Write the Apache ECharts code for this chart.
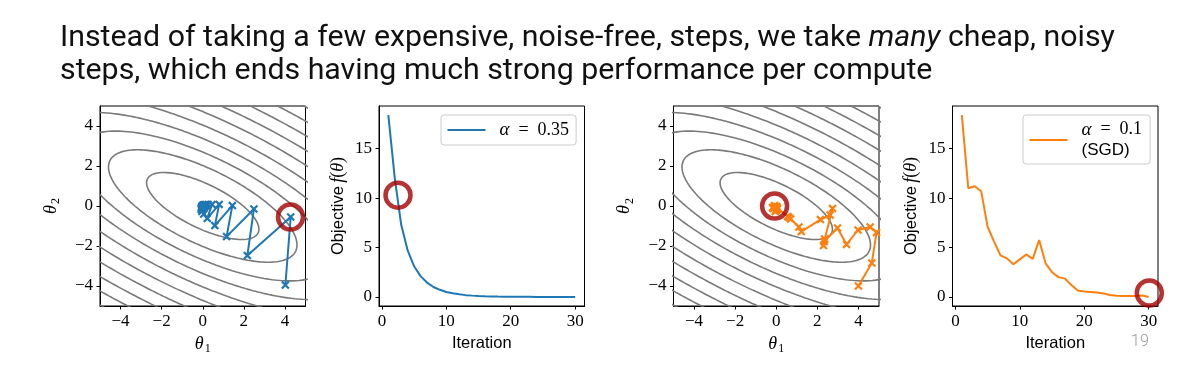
<!DOCTYPE html>
<html><head><meta charset="utf-8">
<script src="https://cdn.jsdelivr.net/npm/echarts@6/dist/echarts.min.js"></script>
<style>html,body{margin:0;padding:0;background:#fff}#c{width:1185px;height:369px}</style>
</head><body><div id="c"></div>
<script>
// ---------- data ----------
const titleLine1a = 'Instead of taking a few expensive, noise-free, steps, we take ';
const titleLine1b = 'many';
const titleLine1c = ' cheap, noisy';
const titleLine2 = 'steps, which ends having much strong performance per compute';
const pageNumber = '19';

const thetaTicks = [-4, -2, 0, 2, 4];
const iterTicks = [0, 10, 20, 30];
const objTicks = [0, 5, 10, 15];

const iterations = [1,2,3,4,5,6,7,8,9,10,11,12,13,14,15,16,17,18,19,20,21,22,23,24,25,26,27,28,29,30];

// full-batch gradient descent (alpha = 0.35)
const gdTheta1 = [4.02,4.28,2.17,2.49,1.16,1.44,0.59,0.80,0.22,0.45,0.05,0.26,-0.04,0.15,-0.07,0.09,-0.07,0.05,-0.06,0.03,-0.05,0.02,-0.04,0.01,-0.03,0.01,-0.02,0.00,-0.02,0.00];
const gdTheta2 = [-3.95,-0.55,-2.48,-0.15,-1.53,0.02,-0.98,0.08,-0.62,0.08,-0.40,0.08,-0.27,0.07,-0.18,0.06,-0.12,0.05,-0.08,0.04,-0.05,0.03,-0.04,0.02,-0.02,0.02,-0.02,0.01,-0.01,0.01];
const gdObjective = [18.4,12.0,7.3,4.7,3.1,2.1,1.45,1.0,0.72,0.5,0.36,0.26,0.18,0.13,0.09,0.065,0.045,0.03,0.02,0.015,0.01,0.007,0.005,0.003,0.002,0.002,0.001,0.001,0.0,0.0];

// stochastic gradient descent (alpha = 0.1)
const sgdTheta1 = [4.00,4.65,4.88,4.57,3.98,3.42,2.98,2.33,2.30,2.36,2.74,2.62,2.15,1.22,1.10,0.70,0.62,0.55,0.05,-0.10,0.00,-0.15,0.02,-0.05,-0.18,0.05,-0.08,-0.02,-0.12,-0.05];
const sgdTheta2 = [-4.00,-2.85,-1.32,-1.05,-1.20,-1.92,-1.10,-1.78,-1.98,-1.65,-0.12,-0.45,-0.68,-1.28,-1.05,-0.65,-0.58,-0.52,-0.10,-0.05,-0.22,-0.12,-0.02,-0.28,-0.08,-0.15,0.02,-0.20,-0.10,-0.05];
const sgdObjective = [18.4,11.0,11.2,10.7,7.1,5.6,4.2,3.9,3.3,3.8,4.3,3.85,5.75,3.4,2.5,2.0,1.85,1.2,0.65,0.55,0.5,0.44,0.35,0.2,0.12,0.1,0.08,0.08,0.14,0.0];

// quadratic objective f = 1/2 theta^T A theta and the contour levels drawn
const quadA = [[1.65, 1.87], [1.87, 4.4]];
const contourLevels = [3.2, 9, 16, 25, 36, 49, 64, 81, 100, 121];

// red highlight circles
const circleGD = [4.27, -0.55];
const circleGDObj = [2.5, 10.3];
const circleSGD = [-0.08, 0.0];
const circleSGDObj = [30.1, 0.4];

const legendGD = 'α = 0.35';
const legendSGD = 'α = 0.1 (SGD)';

// ---------- chart ----------
const BLUE = '#1f77b4', ORANGE = '#ff7f0e', RED = '#a50000';
const serif = 'Liberation Serif';
const sans = 'Liberation Sans';
const xMark = 'path://M0,1.8L1.8,0L5,3.2L8.2,0L10,1.8L6.8,5L10,8.2L8.2,10L5,6.8L1.8,10L0,8.2L3.2,5Z';

function zip(a, b) { return a.map((v, i) => [v, b[i]]); }
function ellipse(level) {
  const pts = [];
  const n = 720;
  for (let k = 0; k <= n; k++) {
    const phi = 2 * Math.PI * k / n;
    const u = Math.cos(phi), v = Math.sin(phi);
    const q = quadA[0][0]*u*u + 2*quadA[0][1]*u*v + quadA[1][1]*v*v;
    const r = Math.sqrt(2 * level / q);
    pts.push([r*u, r*v]);
  }
  return pts;
}
const minusFmt = v => (v < 0 ? '\u2212' + Math.abs(v) : String(v));

const mathRich = {
  t: {fontFamily: serif, fontStyle: 'italic', fontSize: 18, color: '#000', lineHeight: 22},
  s: {fontFamily: serif, fontSize: 12, color: '#000', lineHeight: 22, verticalAlign: 'bottom', padding: [0,0,0,1]},
  w: {fontFamily: sans, fontSize: 16.5, color: '#000', lineHeight: 22},
  f: {fontFamily: serif, fontStyle: 'italic', fontSize: 18, color: '#000', lineHeight: 22},
  p: {fontFamily: serif, fontSize: 18, color: '#000', lineHeight: 22}
};

function axis(kind, gridIndex, min, max, ticks, name, gap) {
  return {
    type: 'value', gridIndex, min, max,
    name, nameLocation: 'middle', nameGap: gap,
    nameTextStyle: {rich: mathRich},
    axisLine: {show: true, onZero: false, lineStyle: {color: '#000', width: 1}},
    axisTick: {show: true, inside: false, length: 3.5, lineStyle: {color: '#000', width: 1}, customValues: ticks},
    axisLabel: {show: true, customValues: ticks, formatter: minusFmt, color: '#000', fontFamily: serif, fontSize: 17, margin: 7},
    splitLine: {show: false}
  };
}

const grids = [
  {left: 100, top: 106, width: 205.5, height: 200},
  {left: 379, top: 106, width: 205.5, height: 200},
  {left: 673.5, top: 106, width: 205.5, height: 200},
  {left: 952.5, top: 106, width: 205.5, height: 200}
].map(g => Object.assign(g, {show: true, borderColor: '#000', borderWidth: 1, backgroundColor: '#fff', outerBoundsMode: 'none', containLabel: false}));

const xAxes = [
  axis('x', 0, -5, 5, thetaTicks, '{t|θ}{s|1}', 13),
  axis('x', 1, -0.45, 31.45, iterTicks, '{w|Iteration}', 24),
  axis('x', 2, -5, 5, thetaTicks, '{t|θ}{s|1}', 13),
  axis('x', 3, -0.45, 31.45, iterTicks, '{w|Iteration}', 24)
];
const yAxes = [
  axis('y', 0, -5, 5, thetaTicks, '{t|θ}{s|2}', 38),
  axis('y', 1, -0.92, 19.32, objTicks, '{w|Objective} {f|f}{p|(}{f|θ}{p|)}', 30),
  axis('y', 2, -5, 5, thetaTicks, '{t|θ}{s|2}', 38),
  axis('y', 3, -0.92, 19.32, objTicks, '{w|Objective} {f|f}{p|(}{f|θ}{p|)}', 30)
];

const series = [];
[0, 2].forEach(gi => {
  contourLevels.forEach(L => {
    series.push({
      type: 'line', name: 'contour', xAxisIndex: gi, yAxisIndex: gi,
      data: ellipse(L), showSymbol: false, symbol: 'none', clip: true, silent: true, z: 1,
      lineStyle: {color: '#7a7a7a', width: 1.6}
    });
  });
});
function path(gi, t1, t2, color, name) {
  return {
    type: 'line', name, xAxisIndex: gi, yAxisIndex: gi, data: zip(t1, t2),
    symbol: xMark, symbolSize: 8.5, showSymbol: true, showAllSymbol: true, clip: true, z: 3,
    itemStyle: {color, borderWidth: 0}, lineStyle: {color, width: 2}
  };
}
series.push(path(0, gdTheta1, gdTheta2, BLUE, 'gdpath'));
series.push(path(2, sgdTheta1, sgdTheta2, ORANGE, 'sgdpath'));
series.push({
  type: 'line', name: legendGD, xAxisIndex: 1, yAxisIndex: 1, data: zip(iterations, gdObjective),
  showSymbol: false, symbol: 'none', z: 3, itemStyle: {color: BLUE}, lineStyle: {color: BLUE, width: 2}
});
series.push({
  type: 'line', name: legendSGD, xAxisIndex: 3, yAxisIndex: 3, data: zip(iterations, sgdObjective),
  showSymbol: false, symbol: 'none', z: 3, itemStyle: {color: ORANGE}, lineStyle: {color: ORANGE, width: 2}
});
[[0, circleGD], [1, circleGDObj], [2, circleSGD], [3, circleSGDObj]].forEach(([gi, p]) => {
  series.push({
    type: 'scatter', name: 'highlight', xAxisIndex: gi, yAxisIndex: gi, data: [p],
    symbol: 'circle', symbolSize: 25, clip: false, z: 10, silent: true,
    itemStyle: {color: 'rgba(0,0,0,0)', borderColor: RED, borderWidth: 4.5}
  });
});

const legendRich = {
  a: {fontFamily: serif, fontStyle: 'italic', fontSize: 19, color: '#000', lineHeight: 21},
  n: {fontFamily: serif, fontSize: 18, color: '#000', lineHeight: 21},
  s: {fontFamily: sans, fontSize: 17, color: '#000', lineHeight: 21}
};
function legend(name, left, top, padding, fmt) {
  return {
    data: [name], left, top, orient: 'vertical', padding,
    icon: 'rect', itemWidth: 38, itemHeight: 2,
    backgroundColor: 'rgba(255,255,255,0.8)', borderColor: '#cccccc', borderWidth: 1, borderRadius: 3,
    selectedMode: false,
    formatter: () => fmt,
    textStyle: {rich: legendRich, padding: [0, 0, 0, 9]}
  };
}

const option = {
  animation: false,
  backgroundColor: '#fff',
  grid: grids, xAxis: xAxes, yAxis: yAxes, series,
  legend: [
    legend(legendGD, 441, 115, [5.5, 7, 5.5, 6.5], '{a|α}{n|  =  0.35}'),
    legend(legendSGD, 1023, 115, [5, 8, 5, 6.5], '{a|α}{n|  =  0.1}\n{s|(SGD)}')
  ],
  graphic: [
    {type: 'text', left: 60, top: 23, silent: true, style: {
      text: '{n|' + titleLine1a + '}{i|' + titleLine1b + '}{n|' + titleLine1c + '}\n{n|' + titleLine2 + '}',
      rich: {
        n: {fontFamily: 'Roboto', fontWeight: 400, fontSize: 30.3, lineHeight: 33, fill: '#111'},
        i: {fontFamily: 'Roboto', fontWeight: 400, fontStyle: 'italic', fontSize: 30.3, lineHeight: 33, fill: '#111'}
      }
    }},
    {type: 'text', left: 1131, top: 334, silent: true, style: {text: pageNumber, fontFamily: 'Roboto', fontWeight: 300, fontSize: 16, fill: '#999'}}
  ]
};
const chart = echarts.init(document.getElementById('c'), null, {renderer: 'canvas'});
chart.setOption(option);
</script></body></html>
